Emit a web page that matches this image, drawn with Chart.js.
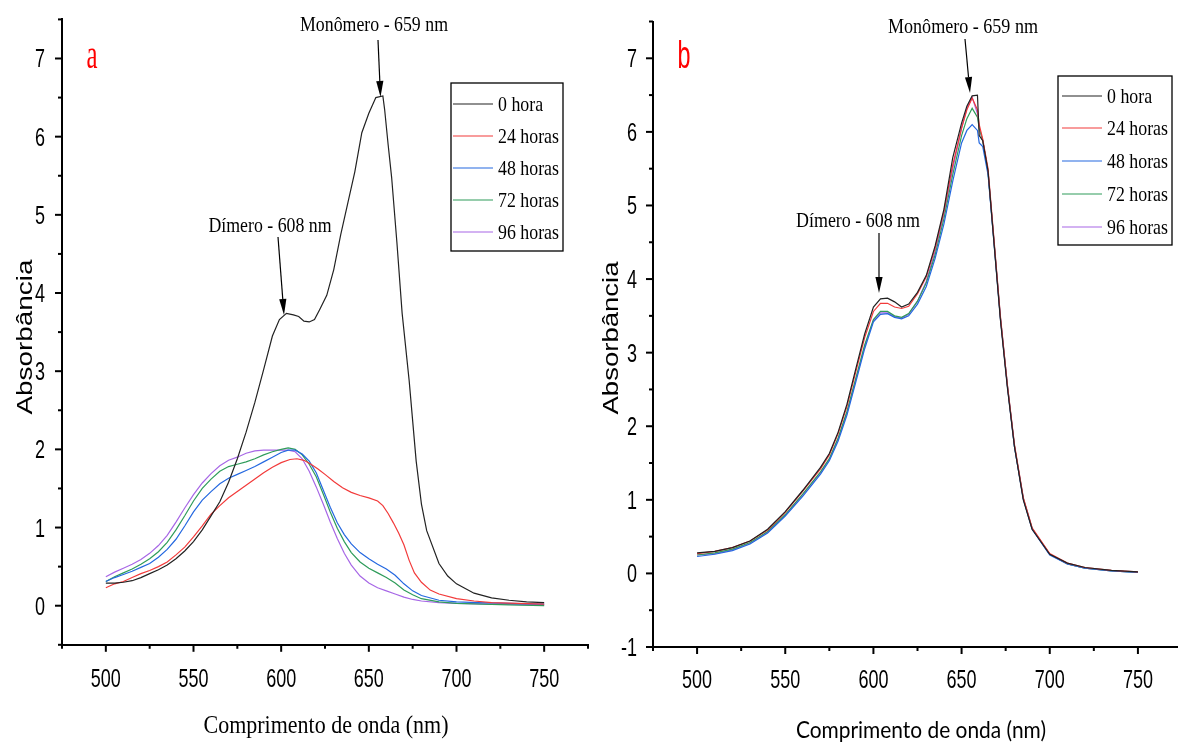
<!DOCTYPE html>
<html><head><meta charset="utf-8">
<script src="https://cdn.jsdelivr.net/npm/chart.js@4.4.0/dist/chart.umd.min.js"></script>
<style>
html,body{margin:0;padding:0;background:#fff;width:1178px;height:745px;overflow:hidden;}
#wa{position:absolute;left:0;top:0;width:600px;height:745px;}
#wb{position:absolute;left:590px;top:0;width:600px;height:745px;}
</style></head><body>
<div id="wa"><canvas id="ca"></canvas></div>
<div id="wb"><canvas id="cb"></canvas></div>
<script>
// ---------- DATA : panel a ----------
const seriesLabels = ['0 hora','24 horas','48 horas','72 horas','96 horas'];
const xTicks = [475,500,525,550,575,600,625,650,675,700,725,750,775];
const xTickLabels = ['','500','','550','','600','','650','','700','','750',''];
const yTicksA = [-0.5,0,0.5,1,1.5,2,2.5,3,3.5,4,4.5,5,5.5,6,6.5,7,7.5];
const yTickLabelsA = ['','0','','1','','2','','3','','4','','5','','6','','7',''];
const yTicksB = [-1,-0.5,0,0.5,1,1.5,2,2.5,3,3.5,4,4.5,5,5.5,6,6.5,7,7.5];
const yTickLabelsB = ['-1','','0','','1','','2','','3','','4','','5','','6','','7',''];

const wlA0 = [500,505,510,515,520,525,530,535,540,545,550,555,560,565,570,575,580,585,590,595,599,603,607,610,613,616,619,622,626,630,634,638,642,646,650,654,658,659,661,663,666,669,673,677,680,683,690,695,700,710,720,730,740,750];
const absA0 = [0.29,0.29,0.30,0.32,0.36,0.41,0.46,0.52,0.60,0.70,0.82,0.97,1.15,1.33,1.58,1.88,2.22,2.60,3.02,3.45,3.66,3.74,3.72,3.70,3.64,3.63,3.66,3.79,3.97,4.30,4.75,5.15,5.55,6.05,6.30,6.50,6.52,6.35,5.90,5.48,4.65,3.74,2.88,1.85,1.30,0.96,0.54,0.38,0.28,0.16,0.10,0.07,0.05,0.04];

const wlA24 = [500,505,510,515,520,525,530,535,540,545,550,555,560,565,570,575,580,585,590,595,600,605,609,613,617,621,625,630,635,640,645,650,655,658,661,664,667,670,673,676,680,685,690,700,710,720,735,750];
const absA24 = [0.23,0.28,0.31,0.36,0.41,0.45,0.50,0.56,0.65,0.75,0.88,1.02,1.17,1.28,1.38,1.46,1.54,1.62,1.70,1.77,1.83,1.87,1.88,1.86,1.81,1.75,1.68,1.59,1.51,1.45,1.41,1.38,1.34,1.28,1.18,1.06,0.93,0.78,0.58,0.42,0.30,0.20,0.15,0.09,0.06,0.04,0.03,0.02];

const wlA48 = [500,505,510,515,520,525,530,535,540,545,550,555,560,565,570,575,580,585,590,595,600,604,608,612,616,620,624,628,632,636,640,645,650,655,660,665,670,675,680,690,700,712,730,750];
const absA48 = [0.31,0.36,0.40,0.44,0.49,0.54,0.62,0.72,0.85,1.02,1.20,1.35,1.46,1.56,1.63,1.68,1.73,1.78,1.84,1.90,1.96,1.99,1.99,1.94,1.85,1.70,1.48,1.26,1.06,0.91,0.79,0.68,0.60,0.53,0.47,0.39,0.28,0.19,0.13,0.07,0.05,0.04,0.03,0.02];

const wlA72 = [500,505,510,515,520,525,530,535,540,545,550,555,560,565,570,575,580,585,590,595,600,604,608,612,616,620,624,628,632,636,640,645,650,655,660,665,670,675,680,690,700,715,730,750];
const absA72 = [0.31,0.37,0.42,0.47,0.53,0.60,0.69,0.81,0.97,1.15,1.34,1.50,1.62,1.72,1.78,1.81,1.84,1.88,1.93,1.97,2.00,2.02,2.00,1.93,1.81,1.65,1.43,1.20,0.99,0.82,0.68,0.56,0.48,0.42,0.36,0.29,0.20,0.14,0.09,0.05,0.03,0.02,0.01,0.00];

const wlA96 = [500,505,510,515,520,525,530,535,540,545,550,555,560,565,570,575,580,585,590,595,600,604,608,612,616,620,624,628,632,636,640,645,650,655,660,665,670,675,680,690,700,720,750];
const absA96 = [0.37,0.43,0.48,0.53,0.59,0.67,0.77,0.90,1.07,1.25,1.42,1.57,1.69,1.79,1.86,1.90,1.95,1.98,1.99,1.99,1.99,1.99,1.97,1.88,1.72,1.52,1.30,1.07,0.86,0.67,0.52,0.38,0.29,0.23,0.19,0.15,0.11,0.08,0.06,0.04,0.03,0.02,0.01];

// ---------- DATA : panel b ----------
const wlB = [500,510,520,530,540,550,560,570,575,580,585,590,595,600,604,608,612,616,620,625,630,635,640,645,650,653,656,659,660,662,665,668,672,676,680,685,690,700,710,720,735,750];
const absB0  = [0.28,0.30,0.35,0.44,0.60,0.84,1.13,1.44,1.63,1.92,2.30,2.78,3.25,3.62,3.73,3.74,3.69,3.62,3.66,3.82,4.05,4.45,4.95,5.65,6.12,6.35,6.49,6.50,5.95,5.88,5.47,4.60,3.45,2.52,1.72,1.00,0.60,0.26,0.14,0.08,0.04,0.02];
const absB24 = [0.27,0.30,0.35,0.44,0.59,0.83,1.12,1.42,1.61,1.90,2.27,2.74,3.20,3.56,3.67,3.67,3.62,3.60,3.63,3.80,4.03,4.42,4.92,5.55,6.05,6.30,6.46,6.30,6.10,5.90,5.50,4.65,3.50,2.56,1.75,1.03,0.62,0.27,0.14,0.08,0.04,0.02];
const absB48 = [0.23,0.26,0.31,0.40,0.55,0.78,1.05,1.35,1.53,1.80,2.15,2.60,3.05,3.42,3.52,3.53,3.48,3.46,3.50,3.66,3.90,4.28,4.75,5.33,5.85,6.02,6.10,6.02,5.85,5.80,5.42,4.60,3.47,2.54,1.72,1.01,0.60,0.25,0.13,0.07,0.035,0.015];
const absB72 = [0.25,0.28,0.33,0.42,0.57,0.80,1.08,1.38,1.56,1.84,2.20,2.65,3.10,3.45,3.56,3.56,3.50,3.48,3.53,3.70,3.95,4.33,4.82,5.42,5.95,6.18,6.32,6.20,6.05,5.88,5.45,4.62,3.48,2.55,1.73,1.02,0.61,0.26,0.13,0.07,0.035,0.015];
const absB96 = [0.25,0.27,0.32,0.41,0.56,0.79,1.07,1.37,1.55,1.83,2.18,2.63,3.08,3.44,3.54,3.54,3.49,3.47,3.52,3.70,3.97,4.38,4.88,5.50,6.05,6.32,6.47,6.25,6.05,5.88,5.46,4.62,3.48,2.55,1.73,1.02,0.61,0.26,0.13,0.07,0.035,0.015];

// ---------- STYLE ----------
const COLORS = ['#222222','#f23a3a','#2468e0','#2f9c5a','#a767e6'];
const SERIF = "'Liberation Serif','DejaVu Serif',serif";
const SANS = "'Liberation Sans',Arial,sans-serif";

function pts(xs, ys){ return xs.map((x,i)=>({x:x, y:ys[i]})); }
function ds(label, color, xs, ys){
  return {label, data: pts(xs, ys), borderColor: color, backgroundColor: color,
    borderWidth: 1.2, pointRadius: 0, tension: 0, fill: false};
}

function fitText(ctx, t){
  ctx.save();
  ctx.font = t.font;
  ctx.fillStyle = t.color || '#000';
  const m = ctx.measureText(t.text).width;
  const k = t.w / m;
  ctx.translate(t.x, t.y);
  if (t.rot){
    ctx.scale(t.cross || 0.8, 1);
    ctx.rotate(-Math.PI/2);
    ctx.scale(k, 1);
    ctx.textBaseline = 'middle';
  } else {
    ctx.scale(k, 1);
    ctx.textBaseline = 'alphabetic';
  }
  ctx.textAlign = 'center';
  ctx.fillText(t.text, 0, 0);
  ctx.restore();
}
function arrow(ctx, x0, y0, x1, y1){
  ctx.save();
  ctx.strokeStyle = '#000'; ctx.fillStyle = '#000'; ctx.lineWidth = 1.2;
  const a = Math.atan2(y1-y0, x1-x0), L = 16, H = 3.6;
  const bx = x1 - L*Math.cos(a), by = y1 - L*Math.sin(a);
  ctx.beginPath(); ctx.moveTo(x0,y0); ctx.lineTo(bx,by); ctx.stroke();
  ctx.beginPath(); ctx.moveTo(x1,y1);
  ctx.lineTo(bx + H*Math.sin(a), by - H*Math.cos(a));
  ctx.lineTo(bx - H*Math.sin(a), by + H*Math.cos(a));
  ctx.closePath(); ctx.fill();
  ctx.restore();
}

function decorPlugin(cfg){
  return {
    id: 'decor',
    afterDraw(chart){
      const ctx = chart.ctx, xs = chart.scales.x, ys = chart.scales.y;
      // tick marks (outside) and tick labels, placed by the chart's own scales
      ctx.save(); ctx.strokeStyle = '#000'; ctx.lineWidth = 2; ctx.fillStyle = '#000';
      ctx.font = '25px ' + SANS; ctx.textBaseline = 'alphabetic';
      xs.ticks.forEach((t, i) => {
        const p = xs.getPixelForValue(t.value), L = (t.value % 50 === 0) ? 7 : 4;
        ctx.beginPath(); ctx.moveTo(p, xs.top); ctx.lineTo(p, xs.top + L); ctx.stroke();
        const lab = xTickLabels[i];
        if (lab){ ctx.save(); ctx.translate(p, cfg.xLabBase); ctx.scale(0.72, 1); ctx.textAlign = 'center'; ctx.fillText(lab, 0, 0); ctx.restore(); }
      });
      ys.ticks.forEach((t, i) => {
        const p = ys.getPixelForValue(t.value), L = Number.isInteger(t.value) ? 7 : 4;
        ctx.beginPath(); ctx.moveTo(ys.right, p); ctx.lineTo(ys.right - L, p); ctx.stroke();
        const lab = cfg.yLabels[i];
        if (lab){ ctx.save(); ctx.translate(ys.right - cfg.ypad, p + 9); ctx.scale(0.72, 1); ctx.textAlign = 'right'; ctx.fillText(lab, 0, 0); ctx.restore(); }
      });
      ctx.restore();
      // legend box
      const lg = cfg.legend;
      ctx.save();
      ctx.strokeStyle = '#000'; ctx.lineWidth = 1.3;
      ctx.strokeRect(lg.x0, lg.y0, lg.x1 - lg.x0, lg.y1 - lg.y0);
      ctx.font = '22px ' + SERIF;
      const k = lg.refW / ctx.measureText('24 horas').width;
      chart.data.datasets.forEach((d, i) => {
        const y = lg.rows[i];
        ctx.strokeStyle = d.borderColor; ctx.lineWidth = 1.2;
        ctx.beginPath(); ctx.moveTo(lg.lx0, y); ctx.lineTo(lg.lx1, y); ctx.stroke();
        ctx.save(); ctx.fillStyle = '#000'; ctx.textBaseline = 'middle'; ctx.textAlign = 'left';
        ctx.translate(lg.tx, y + 1); ctx.scale(k, 1); ctx.fillText(d.label, 0, 0); ctx.restore();
      });
      ctx.restore();
      cfg.texts.forEach(t => fitText(ctx, t));
      cfg.arrows.forEach(a => arrow(ctx, a[0], a[1], a[2], a[3]));
    }
  };
}

function makeChart(id, datasets, o){
  return new Chart(document.getElementById(id), {
    type: 'line',
    data: { datasets },
    options: {
      responsive: true, maintainAspectRatio: false, animation: false,
      devicePixelRatio: 1,
      layout: { padding: { top: o.top, right: o.right, bottom: 0, left: 0 } },
      plugins: { legend: { display: false }, tooltip: { enabled: false }, title: { display: false } },
      scales: {
        x: {
          type: 'linear', min: 475, max: 775,
          afterBuildTicks: s => { s.ticks = xTicks.map(v => ({ value: v })); },
          afterFit: s => { s.height = o.xh; },
          grid: { display: false },
          border: { display: true, color: '#000', width: 2 },
          ticks: { display: false }
        },
        y: {
          type: 'linear', min: o.ymin, max: 7.5,
          afterBuildTicks: s => { s.ticks = o.yticks.map(v => ({ value: v })); },
          afterFit: s => { s.width = o.yw; },
          grid: { display: false },
          border: { display: true, color: '#000', width: 2 },
          ticks: { display: false }
        }
      }
    },
    plugins: [decorPlugin(o)]
  });
}

const dsA = [
  ds(seriesLabels[0], COLORS[0], wlA0, absA0),
  ds(seriesLabels[1], COLORS[1], wlA24, absA24),
  ds(seriesLabels[2], COLORS[2], wlA48, absA48),
  ds(seriesLabels[3], COLORS[3], wlA72, absA72),
  ds(seriesLabels[4], COLORS[4], wlA96, absA96)
];
const dsB = [
  ds(seriesLabels[0], COLORS[0], wlB, absB0),
  ds(seriesLabels[1], COLORS[1], wlB, absB24),
  ds(seriesLabels[2], COLORS[2], wlB, absB48),
  ds(seriesLabels[3], COLORS[3], wlB, absB72),
  ds(seriesLabels[4], COLORS[4], wlB, absB96)
];

makeChart('ca', dsA, {
  top: 19.4, right: 12, xh: 100.2, yw: 62, ypad: 17, xLabBase: 687, ymin: -0.5, yticks: yTicksA, yLabels: yTickLabelsA,
  legend: { x0: 451, y0: 83, x1: 563, y1: 251, lx0: 453, lx1: 493, tx: 498, refW: 61, rows: [104, 136, 168, 200, 232] },
  texts: [
    { text: 'a', font: '40px ' + SERIF, x: 92, y: 68, w: 11, color: '#ff0000' },
    { text: 'Monômero - 659 nm', font: '22px ' + SERIF, x: 374, y: 31, w: 148 },
    { text: 'Dímero - 608 nm', font: '22px ' + SERIF, x: 270, y: 232, w: 123 },
    { text: 'Absorbância', font: '27px ' + SANS, x: 26, y: 337, w: 155, rot: true, cross: 0.8 },
    { text: 'Comprimento de onda (nm)', font: '26px ' + SERIF, x: 326, y: 733, w: 245 }
  ],
  arrows: [[378, 40, 380.5, 97], [278, 237, 284, 315]]
});

makeChart('cb', dsB, {
  top: 21.5, right: 8, xh: 98, yw: 63, ypad: 16, xLabBase: 688, ymin: -1, yticks: yTicksB, yLabels: yTickLabelsB,
  legend: { x0: 468, y0: 76, x1: 582, y1: 245, lx0: 472, lx1: 512, tx: 517, refW: 61, rows: [96, 128, 161, 194, 227] },
  texts: [
    { text: 'b', font: '38px ' + SANS, x: 94, y: 68, w: 13, color: '#ff0000' },
    { text: 'Monômero - 659 nm', font: '22px ' + SERIF, x: 373, y: 33, w: 150 },
    { text: 'Dímero - 608 nm', font: '22px ' + SERIF, x: 268, y: 227, w: 124 },
    { text: 'Absorbância', font: '27px ' + SANS, x: 22, y: 338, w: 153, rot: true, cross: 0.8 },
    { text: 'Comprimento de onda (nm)', font: "24px Lato,'Open Sans',sans-serif", x: 331, y: 738, w: 250 }
  ],
  arrows: [[375, 39, 380, 93], [289, 233, 289, 293]]
});
</script>
</body></html>
